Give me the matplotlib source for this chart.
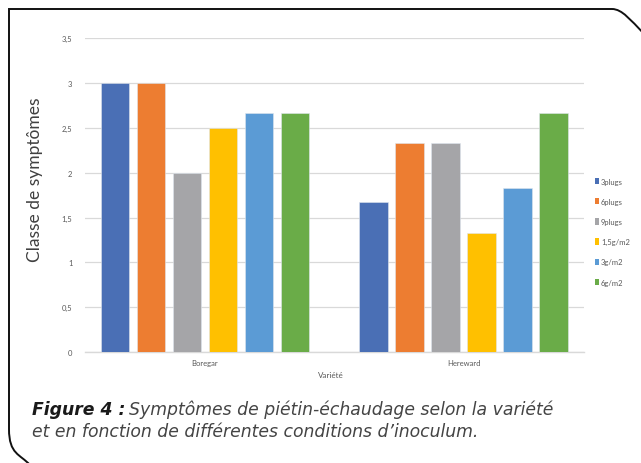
import matplotlib.pyplot as plt
import numpy as np
from matplotlib.patches import Patch
from matplotlib.path import Path
from matplotlib.patches import PathPatch

# symptom classes per variety and inoculum condition
varieties = ['Boregar', 'Hereward']
conditions = ['3plugs', '6plugs', '9plugs', '1,5g/m2', '3g/m2', '6g/m2']
boregar = [3.0, 3.0, 2.0, 2.5, 2.67, 2.67]
hereward = [1.67, 2.33, 2.33, 1.33, 1.83, 2.67]
colors = ['#4a6fb5', '#ed7d31', '#a5a5a8', '#ffc000', '#5b9bd5', '#6aac48']
y_ticks = [0, 0.5, 1, 1.5, 2, 2.5, 3, 3.5]
y_tick_labels = ['0', '0,5', '1', '1,5', '2', '2,5', '3', '3,5']

W, H = 641, 464
fig = plt.figure(figsize=(W / 100, H / 100), dpi=100)

ax = fig.add_axes([85 / W, 1 - 353 / H, (584 - 85) / W, (353 - 39.3) / H])

values = np.array([boregar, hereward])
x = np.arange(len(varieties))
step = 0.1393
width = 0.110
for i, cond in enumerate(conditions):
    offs = (i - 2.5) * step
    ax.bar(x + offs, values[:, i], width=width, color=colors[i],
           edgecolor='#dfe6ee', linewidth=0.4, zorder=3)

ax.set_xlim(-0.464, 1.466)
ax.set_ylim(0, 3.5)
ax.set_yticks(y_ticks)
ax.set_yticklabels(y_tick_labels)
ax.set_xticks(x)
ax.set_xticklabels(varieties)
ax.grid(axis='y', color='#d9d9d9', linewidth=0.9, zorder=0)
for s in ['top', 'right', 'left']:
    ax.spines[s].set_visible(False)
ax.spines['bottom'].set_color('#d9d9d9')
ax.spines['bottom'].set_linewidth(1.0)
ax.tick_params(axis='both', length=0, labelsize=5.5, labelcolor='#595959')
ax.tick_params(axis='y', pad=9)
ax.tick_params(axis='x', pad=5)
for lbl in ax.get_xticklabels() + ax.get_yticklabels():
    lbl.set_family('Lato')

fig.text(331 / W, 1 - 376 / H, 'Variété', ha='center', va='center',
         fontsize=5.8, color='#595959', family='Lato')

fig.text(35 / W, 1 - 180 / H, 'Classe de symptômes', rotation=90,
         ha='center', va='center', fontsize=12.5, color='#404040',
         family='Lato')

# legend on the right
handles = [Patch(facecolor=c, edgecolor='none') for c in colors]
fig.legend(handles, conditions, loc='upper left',
           bbox_to_anchor=(591 / W, 1 - 175 / H), frameon=False,
           handlelength=0.55, handleheight=0.9,
           handletextpad=0.25, labelspacing=1.72, borderpad=0,
           labelcolor='#595959', prop={'family': 'Lato', 'size': 5.5})

# caption
cap_size = 12.4
cap_font = 'DejaVu Sans'
cap = fig.text(32 / W, 1 - 410 / H, 'Figure 4 :', ha='left', va='center',
               fontsize=cap_size, style='italic', fontweight='bold',
               family=cap_font, color='#1a1a1a')
fig.canvas.draw()
bb = cap.get_window_extent()
fig.text((bb.x1 + 4) / W, 1 - 410 / H,
         'Symptômes de piétin-échaudage selon la variété', ha='left',
         va='center', fontsize=cap_size, style='italic',
         family=cap_font, color='#444444')
fig.text(32 / W, 1 - 432 / H,
         'et en fonction de différentes conditions d\u2019inoculum.', ha='left',
         va='center', fontsize=cap_size, style='italic',
         family=cap_font, color='#444444')

# frame with rounded corners, drawn in pixel coordinates
frame = fig.add_axes([0, 0, 1, 1], zorder=-1)
frame.set_xlim(0, W)
frame.set_ylim(H, 0)
frame.axis('off')
r = 46
k = 0.5523
verts = [
    (W + 2, 10 + 10 + r * 0.3),
    (W - 10, 10 + r * 0.25), (612 + r * k * 0.4, 10), (612, 10),
    (9, 10),
    (9, 430),
    (9, 430 + r * k), (20, 455), (30, H + 2),
]
codes = [Path.MOVETO, Path.CURVE4, Path.CURVE4, Path.CURVE4,
         Path.LINETO, Path.LINETO, Path.CURVE4, Path.CURVE4, Path.CURVE4]
frame.add_patch(PathPatch(Path(verts, codes), facecolor='none',
                          edgecolor='#111111', linewidth=1.4))

fig.savefig('out.png', dpi=100)
